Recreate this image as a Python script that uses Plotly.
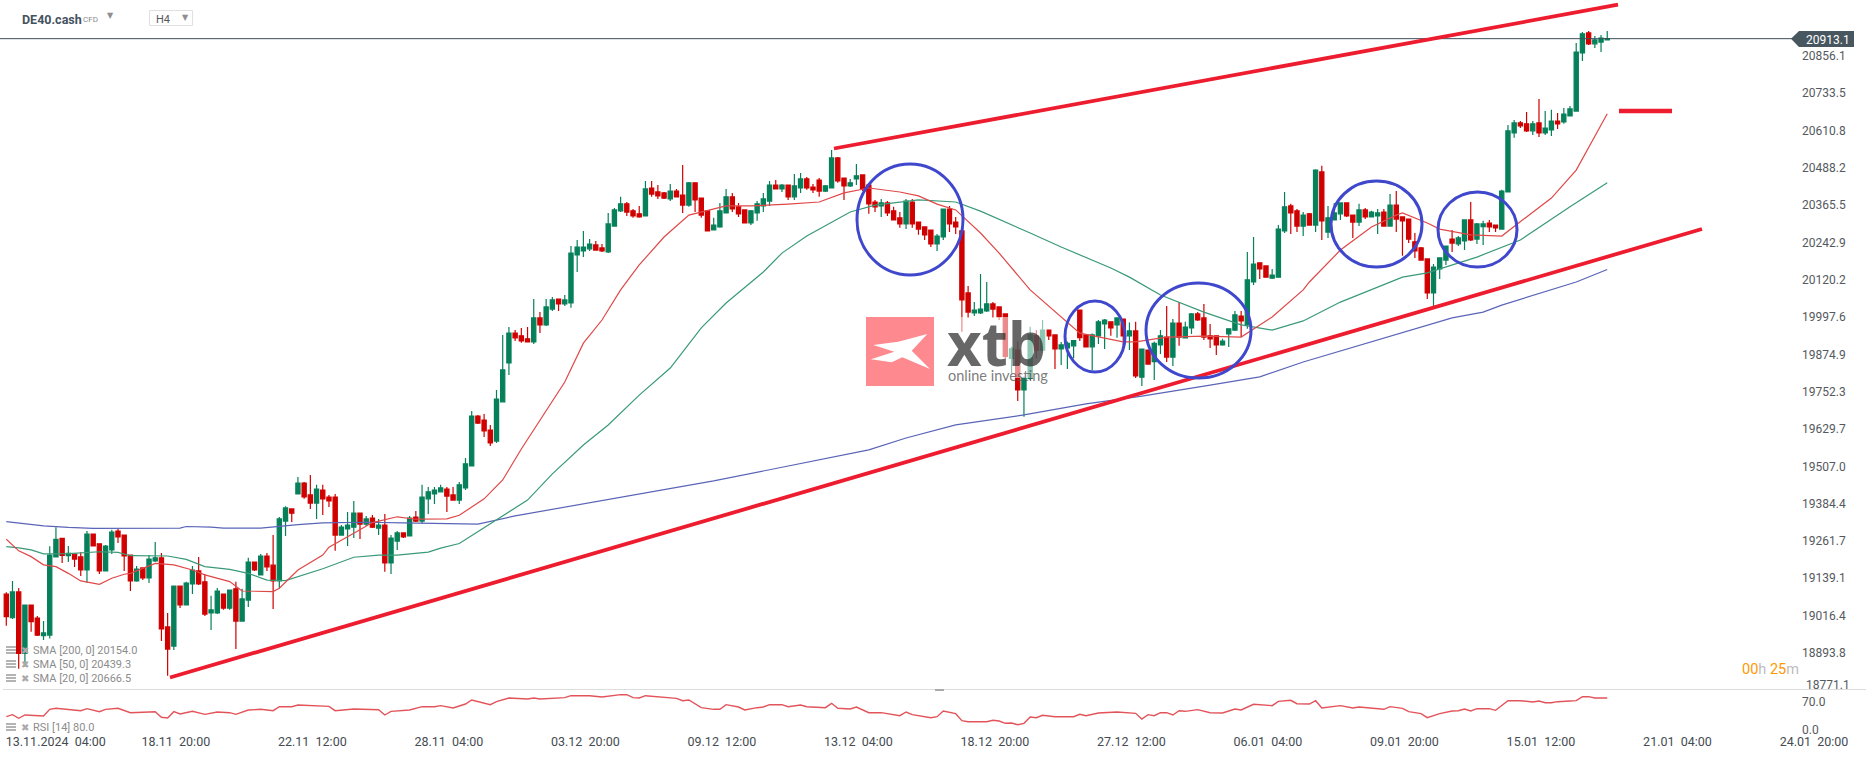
import plotly.graph_objects as go

W, H = 1866, 759

opens = [19087,19009,19094,18892,19051,19008,18950,18952,19209,19270,
19213,19218,19209,19166,19284,19252,19163,19232,19294,19281,
19215,19130,19173,19140,19196,19206,18979,18916,19113,19051,
19120,19163,19127,19025,19025,19087,19041,19104,18998,19067,
19192,19150,19212,19182,19130,19327,19367,19416,19452,19413,
19386,19429,19406,19406,19281,19301,19307,19353,19317,19337,
19304,19314,19189,19261,19288,19278,19340,19327,19400,19416,
19423,19432,19413,19396,19436,19508,19672,19659,19626,19590,
19719,19847,19945,19936,19926,19916,19995,19972,20024,20057,
20041,20044,20202,20215,20222,20235,20225,20212,20297,20347,
20370,20347,20337,20330,20422,20409,20406,20386,20412,20399,
20366,20439,20389,20347,20284,20294,20340,20393,20360,20350,
20307,20340,20363,20379,20432,20419,20432,20393,20422,20452,
20425,20448,20412,20422,20521,20455,20429,20452,20465,20432,
20376,20363,20373,20347,20324,20304,20376,20310,20294,20284,
20238,20261,20353,20310,20281,20077,20011,20011,20018,20041,
20031,20008,19862,19889,19758,19796,19936,19889,19955,19939,
19893,19896,19903,20021,19939,19900,19936,19975,19982,19972,
19991,19936,19952,19800,19889,19851,19906,19932,19866,19978,
19929,19962,20008,19995,19936,19936,19906,19942,19955,20001,
19972,20113,20176,20166,20126,20129,20281,20363,20347,20297,
20337,20300,20475,20277,20317,20337,20373,20333,20310,20350,
20327,20330,20343,20297,20366,20327,20320,20245,20225,20189,
20077,20156,20185,20254,20238,20248,20317,20254,20295,20307,
20300,20287,20409,20603,20636,20633,20610,20636,20603,20613,
20642,20639,20659,20675,20866,20932,20896,20902,20909]

highs = [19093,19130,19107,19051,19051,19015,18998,19244,19307,19270,
19245,19218,19224,19294,19284,19252,19248,19298,19302,19281,
19215,19179,19173,19215,19258,19222,19025,19113,19113,19127,
19179,19209,19153,19081,19107,19087,19100,19127,19104,19206,
19192,19219,19222,19281,19340,19376,19367,19472,19455,19478,
19446,19446,19413,19416,19314,19357,19393,19353,19344,19347,
19334,19350,19281,19294,19288,19344,19360,19446,19439,19439,
19446,19439,19439,19455,19534,19689,19676,19679,19643,19758,
19939,19965,19955,19962,19965,20057,20014,20057,20064,20057,
20070,20231,20251,20281,20254,20248,20238,20340,20356,20393,
20376,20353,20363,20445,20445,20432,20409,20435,20419,20498,
20442,20439,20389,20347,20324,20373,20419,20406,20373,20350,
20350,20379,20406,20445,20448,20435,20432,20468,20471,20458,
20435,20455,20432,20547,20524,20455,20452,20501,20465,20432,
20383,20386,20379,20360,20343,20386,20386,20310,20294,20284,
20271,20353,20363,20327,20281,20100,20047,20139,20113,20047,
20031,20008,19900,19917,19802,19966,19955,19988,19955,19939,
19916,19917,19922,20021,19939,19944,19988,19991,19982,19995,
19991,19980,19982,19892,19889,19917,19955,20034,19991,20047,
19982,20011,20014,20041,19975,19936,19926,19959,20018,20018,
20212,20261,20176,20166,20156,20300,20409,20370,20353,20343,
20340,20484,20495,20363,20373,20373,20373,20333,20370,20356,
20347,20353,20353,20402,20412,20327,20320,20274,20228,20189,
20172,20192,20231,20284,20264,20317,20376,20307,20314,20317,
20300,20416,20629,20646,20642,20672,20642,20715,20675,20679,
20669,20685,20692,20899,20935,20938,20922,20925,20938]

lows = [18983,19005,18841,18848,18963,18949,18936,18941,19208,19189,
19192,19176,19146,19124,19245,19153,19163,19219,19255,19163,
19097,19127,19133,19123,19192,18933,18818,18903,19041,19051,
19087,19117,19015,18969,19021,19035,19035,18906,18998,19044,
19163,19150,19163,19038,19104,19278,19324,19416,19400,19367,
19334,19347,19373,19229,19281,19245,19271,19268,19311,19304,
19281,19160,19153,19232,19271,19278,19324,19317,19350,19383,
19423,19357,19396,19383,19429,19508,19646,19603,19574,19584,
19719,19807,19919,19913,19916,19909,19945,19968,20018,20018,
20034,20028,20146,20195,20215,20218,20212,20208,20297,20343,
20330,20324,20324,20330,20393,20386,20386,20379,20393,20340,
20360,20343,20324,20281,20284,20291,20340,20343,20327,20307,
20300,20314,20343,20363,20419,20409,20383,20383,20406,20416,
20406,20393,20409,20422,20439,20383,20425,20432,20412,20337,
20343,20327,20330,20317,20291,20287,20291,20268,20251,20228,
20215,20251,20277,20271,19949,19995,20001,20008,20014,19995,
19988,19862,19813,19722,19670,19791,19862,19879,19922,19827,
19840,19827,19862,19919,19900,19824,19909,19893,19936,19930,
19906,19889,19797,19771,19843,19791,19876,19850,19837,19903,
19929,19942,19985,19922,19896,19873,19903,19899,19952,19932,
19959,20103,20123,20129,20123,20129,20274,20271,20277,20264,
20300,20277,20251,20258,20317,20317,20327,20258,20297,20320,
20327,20271,20297,20297,20277,20199,20241,20192,20185,20057,
20034,20123,20169,20212,20231,20218,20248,20238,20235,20277,
20277,20287,20409,20587,20619,20606,20596,20590,20596,20593,
20616,20633,20659,20675,20840,20892,20882,20869,20909]

closes = [19013,19094,18892,19051,18996,18952,18959,19215,19267,19214,
19221,19202,19166,19284,19245,19163,19245,19291,19275,19212,
19130,19169,19140,19202,19206,18972,18906,19113,19051,19123,
19166,19120,19021,19035,19097,19041,19100,18998,19071,19192,
19166,19212,19176,19130,19334,19370,19353,19452,19406,19386,
19432,19400,19393,19281,19307,19314,19353,19317,19334,19307,
19314,19189,19271,19288,19275,19337,19327,19406,19423,19429,
19436,19409,19396,19446,19515,19672,19649,19623,19584,19728,
19824,19945,19929,19919,19916,19995,19972,20031,20054,20041,
20054,20208,20228,20228,20238,20218,20215,20304,20350,20370,
20343,20330,20327,20419,20402,20396,20389,20412,20393,20366,
20439,20383,20333,20281,20300,20347,20393,20353,20337,20307,
20347,20370,20386,20432,20419,20432,20393,20429,20452,20422,
20416,20412,20429,20521,20445,20429,20439,20462,20419,20370,
20360,20373,20340,20317,20304,20379,20304,20287,20268,20238,
20264,20353,20304,20294,20054,20014,20021,20024,20041,20024,
19998,19868,19893,19758,19796,19939,19889,19955,19936,19893,
19906,19911,19920,19930,19900,19939,19982,19988,19962,19995,
19936,19952,19804,19892,19843,19911,19936,19866,19978,19932,
19965,20008,19988,19932,19926,19906,19919,19959,20005,19985,
20120,20172,20156,20129,20136,20287,20360,20340,20297,20333,
20300,20481,20314,20324,20340,20373,20330,20310,20350,20327,
20343,20340,20297,20366,20320,20314,20254,20215,20185,20077,
20162,20192,20231,20241,20258,20317,20251,20304,20304,20294,
20291,20412,20610,20636,20626,20610,20633,20603,20619,20642,
20633,20665,20682,20869,20929,20896,20909,20915,20913.1]

bars = list(range(len(opens)))

sma200_bars = [0,6,10,14,28,29,33,35,41,44,47,51,58,64,73,76,82,95,114,139,145,153,164,174,183,194,202,209,233,238,241,253,258]
sma200_values = [19325,19311,19306,19303,19304,19309,19307,19304,19304,19310,19315,19321,19323,19321,19319,19317,19344,19390,19459,19561,19600,19643,19676,19712,19738,19774,19801,19850,19995,20014,20037,20113,20154]

sma50_bars = [0,2,4,6,10,15,18,20,26,29,32,36,39,42,45,47,51,56,60,63,68,70,73,84,88,93,97,102,107,112,116,122,125,129,132,136,140,144,147,153,157,165,170,178,181,186,193,199,204,209,215,225,229,237,244,252,255,258]
sma50_values = [19243,19239,19232,19219,19220,19226,19224,19213,19212,19201,19177,19168,19155,19133,19131,19144,19170,19208,19215,19215,19225,19238,19253,19396,19482,19577,19643,19741,19830,19962,20044,20146,20208,20264,20297,20343,20366,20376,20383,20376,20346,20274,20228,20159,20129,20070,20014,19972,19955,19985,20047,20129,20143,20195,20251,20360,20399,20439]

sma20_bars = [0,2,4,6,8,10,12,15,17,19,20,24,27,30,32,36,38,43,44,47,51,52,56,59,63,66,71,73,77,80,83,86,90,93,96,99,102,106,110,116,120,126,131,135,139,144,147,150,153,157,160,165,170,173,180,182,187,193,199,204,209,210,215,220,224,225,229,231,236,241,245,249,253,258]
sma20_values = [19267,19229,19210,19183,19177,19155,19130,19119,19139,19152,19155,19188,19183,19166,19150,19128,19097,19095,19106,19166,19215,19241,19287,19322,19341,19333,19334,19346,19400,19462,19564,19659,19784,19912,19988,20087,20169,20261,20333,20363,20363,20369,20376,20406,20422,20409,20396,20369,20350,20274,20208,20087,19998,19945,19916,19916,19932,19935,19932,19998,20087,20113,20218,20294,20333,20340,20307,20287,20268,20264,20327,20389,20481,20666]

rsi_bars = [0,1,2,3,6,7,8,11,12,13,15,16,18,20,22,24,25,26,27,28,30,32,34,36,37,39,41,43,44,46,47,52,53,56,60,61,62,65,67,69,70,72,74,75,78,79,81,84,85,86,90,91,94,96,99,100,101,102,103,105,108,109,110,112,114,115,116,118,119,121,122,123,125,126,128,129,132,133,134,136,137,139,141,144,145,146,149,150,151,153,154,155,158,159,160,161,162,163,164,165,166,167,169,172,173,174,176,179,181,182,183,184,185,186,187,188,189,190,192,194,196,198,199,201,204,205,207,208,210,211,212,215,217,218,222,223,225,226,228,229,231,233,234,235,236,237,239,240,242,244,246,247,248,249,250,251,252,253,254,255,256,258]
rsi_values = [33.3,38.3,29.2,37.5,35,51.7,54.2,50,48.3,53.3,45.8,51.7,54.2,43.3,45,45.8,31.7,30,45.8,40,46.7,39.2,45,43.3,39.2,50,51.7,48.3,58.3,58.3,62.5,59.2,48.3,52.5,50.8,37.5,46.7,50,58.3,58.3,60.8,55,65,75,63.3,70.8,80,77.5,80,77.5,80.8,85.8,85.8,82.5,88.3,88.3,80.8,80,85.8,82.5,79.2,73.3,75,55.8,51.7,51.7,63.3,57.5,50,55.8,57.5,63.3,63.3,58.3,62.5,58.3,55.8,66.7,54.2,52.5,57.5,43.3,43.3,35.8,45,38.3,30.8,33.3,47.5,40.8,23.3,20.8,20.8,24.2,22.5,16.7,17.5,13.3,16.7,32.5,30.8,36.7,33.3,33.3,39.2,35.8,42.5,45,41.7,41.7,27.5,38.3,35.8,43.3,43.3,37.5,48.3,46.7,50.8,43.3,42.5,52.5,50,64.2,60.8,71.7,74.2,65.8,65,73.3,55,60.8,55,57.5,51.7,58.3,54.2,45.8,40.8,30.8,40.8,47.5,48.3,52.5,47.5,53.3,53.3,49.2,73.3,73.3,70,72.5,68.3,68.3,70.8,70.8,72.5,73.3,83.3,83.3,80,80]

price_ticks = [20856.1,20733.5,20610.8,20488.2,20365.5,20242.9,20120.2,19997.6,19874.9,19752.3,19629.7,19507.0,19384.4,19261.7,19139.1,19016.4,18893.8]
rsi_ticks = [70.0, 0.0]
time_tick_bars = [2.66,22,44,66,88,110,132,154,176,198,220,242,264,286]
time_tick_labels = ["13.11.2024","18.11","22.11","28.11","03.12","09.12","13.12","18.12","27.12","06.01","09.01","15.01","21.01","24.01"]
time_tick_hours = ["04:00","20:00","12:00","04:00","20:00","12:00","04:00","20:00","12:00","04:00","20:00","12:00","04:00","20:00"]

last_price = 20913.1
legend_rows = ["SMA [200, 0] 20154.0","SMA [50, 0] 20439.3","SMA [20, 0] 20666.5"]

GREEN, RED = "#06805a", "#d00000"
TXT = "#55595e"
FONT = "Roboto"

def px(x): return x / W
def py(y): return 1 - y / H

fig = go.Figure()
fig.add_trace(go.Candlestick(x=bars, open=opens, high=highs, low=lows, close=closes,
    increasing=dict(line=dict(color=GREEN, width=1.2), fillcolor=GREEN),
    decreasing=dict(line=dict(color=RED, width=1.2), fillcolor=RED),
    whiskerwidth=0, hoverinfo="skip", showlegend=False, xaxis="x", yaxis="y"))
for b, v, c in [(sma200_bars, sma200_values, "#5a64b8"),
                (sma50_bars, sma50_values, "#3a9a78"),
                (sma20_bars, sma20_values, "#e04848")]:
    fig.add_trace(go.Scatter(x=b, y=v, mode="lines", line=dict(color=c, width=1.2),
                             hoverinfo="skip", showlegend=False, xaxis="x", yaxis="y"))
fig.add_trace(go.Scatter(x=rsi_bars, y=rsi_values, mode="lines", line=dict(color="#e2545a", width=1.4),
                         hoverinfo="skip", showlegend=False, xaxis="x2", yaxis="y2"))

shapes = []
def line(x0, y0, x1, y1, color, width):
    shapes.append(dict(type="line", xref="paper", yref="paper", x0=px(x0), y0=py(y0), x1=px(x1), y1=py(y1),
                       line=dict(color=color, width=width), layer="above"))
def rect(x0, y0, x1, y1, fill, border="rgba(0,0,0,0)", bw=0):
    shapes.append(dict(type="rect", xref="paper", yref="paper", x0=px(x0), y0=py(y0), x1=px(x1), y1=py(y1),
                       fillcolor=fill, line=dict(color=border, width=bw), layer="above"))
def poly(points, fill):
    d = "M " + " L ".join(f"{px(a):.5f},{py(b):.5f}" for a, b in points) + " Z"
    shapes.append(dict(type="path", xref="paper", yref="paper", path=d, fillcolor=fill,
                       line=dict(width=0), layer="above"))
def circle(x0, y0, x1, y1):
    shapes.append(dict(type="circle", xref="paper", yref="paper", x0=px(x0), y0=py(y0), x1=px(x1), y1=py(y1),
                       line=dict(color="#3f48cc", width=3), layer="above"))

# separators and current price line
line(3, 689.5, W, 689.5, "#dddddd", 1)
rect(935, 689, 944, 691, "#aaaaaa")
shapes.append(dict(type="line", xref="paper", yref="y", x0=0, x1=px(1796), y0=last_price, y1=last_price,
                   line=dict(color="#3d4f5c", width=1), layer="above"))
poly([(1791, 38.7), (1799, 31), (1854, 31), (1854, 47), (1799, 47)], "#47565f")

# watermark
rect(934, 317, 1047, 378, "rgba(255,255,255,0.55)")
rect(866, 317, 934, 386, "#fe8a90")
poly([(873.3,345),(894.3,351.7),(871,359.3),(891.7,362.3),(902.3,357.3),(930,369),(911.7,350.7),(927.3,334),(898.3,341.7)], "#ffffff")

# drawings
line(170, 677.5, 1702, 229, "#ed1c2e", 3.8)
line(834, 148.5, 1618, 4.7, "#ed1c2e", 3.8)
line(1619, 111, 1672, 111, "#ed1c2e", 4.7)
circle(857, 164, 963, 275)
circle(1065, 301, 1125, 372)
circle(1146, 283, 1251, 378)
circle(1331, 181, 1422, 267)
circle(1438, 192, 1517, 267)

# toolbar box
rect(149.5, 10.5, 192.5, 25.5, "#ffffff", "#e0e0e0", 1)

# legend icons
for yy in (650, 664, 678, 727):
    for dy in (-4, -1, 2):
        rect(6, yy + dy, 16, yy + dy + 2, "#b4b4b4")

ann = []
def text(x, y, s, size=12, color=TXT, anchor="left", family=FONT, bold=False, opacity=1):
    ann.append(dict(xref="paper", yref="paper", x=px(x), y=py(y), text=f"<b>{s}</b>" if bold else s,
                    showarrow=False, xanchor=anchor, yanchor="middle", align=anchor, opacity=opacity,
                    font=dict(size=size, color=color, family=family)))

text(20, 19, "DE40.cash", 12.5, "#44525f", bold=True)
text(81, 19.5, "CFD", 8, "#8a8a8a")
text(105, 16, "▼", 8, "#8f8f8f", family="DejaVu Sans")
text(154, 19.5, "H4", 11, "#55595e")
text(180, 17.5, "▼", 8, "#8f8f8f", family="DejaVu Sans")

text(1804, 39.7, f"{last_price}", 12, "#ffffff")
text(1804, 685, "18771.1", 12, TXT)
text(1740, 669, '<span style="color:#ff9800">00</span>h <span style="color:#ff9800">25</span>m', 14.5, "#bdbdbd")

for yy, row in zip((650, 664, 678), legend_rows):
    text(19, yy, "✖", 10, "#aaaaaa", family="DejaVu Sans")
    text(31, yy, row, 11, "#8c8c8c")
text(19, 727, "✖", 10, "#aaaaaa", family="DejaVu Sans")
text(31, 727, "RSI [14] 80.0", 11, "#8c8c8c")

text(945, 343, "xtb", 60, "rgba(45,45,45,0.72)", family="Open Sans", bold=True)
text(946, 375, "online investing", 14.5, "rgba(90,90,90,0.8)", family="Lato")

fig.update_layout(
    width=W, height=H, margin=dict(l=0, r=0, t=0, b=0, pad=0, autoexpand=False),
    paper_bgcolor="white", plot_bgcolor="white", showlegend=False,
    boxgap=0.32, boxgroupgap=0, hovermode=False,
    font=dict(family=FONT, size=12, color=TXT),
    shapes=shapes, annotations=ann,
    xaxis=dict(domain=[0, 1], range=[-1.015, 299.7], anchor="y", visible=False,
               rangeslider=dict(visible=False), showgrid=False),
    xaxis2=dict(domain=[0, 1], range=[-1.015, 299.7], anchor="y2", matches="x", showgrid=False,
                zeroline=False, showline=False, ticks="", tickmode="array",
                tickvals=time_tick_bars,
                ticktext=[f"{a}\u00a0\u00a0{b}" for a, b in zip(time_tick_labels, time_tick_hours)],
                tickangle=0, ticklabelshift=33, tickfont=dict(size=12.5, color="#444b52", family=FONT)),
    yaxis=dict(domain=[py(689), 1], range=[21040.2 - 3.288 * 689, 21040.2], anchor="free", position=px(1801),
               side="right", showgrid=False, zeroline=False, showline=False, ticks="",
               tickmode="array", tickvals=price_ticks, ticktext=[f"{v:.1f}" for v in price_ticks],
               tickfont=dict(size=12, color=TXT, family=FONT)),
    yaxis2=dict(domain=[py(732), py(690)], range=[-5, 100], anchor="free", position=px(1801),
                side="right", showgrid=False, zeroline=False, showline=False, ticks="",
                tickmode="array", tickvals=rsi_ticks, ticktext=[f"{v:.1f}" for v in rsi_ticks],
                tickfont=dict(size=12, color=TXT, family=FONT)),
)
fig.write_html("out.html", config=dict(displayModeBar=False),
               post_script=("var s=document.documentElement.style,b=document.body.style;"
                            "s.margin='0';b.margin='0';s.overflow='hidden';b.overflow='hidden';"
                            "s.height='759px';b.height='759px';"))
